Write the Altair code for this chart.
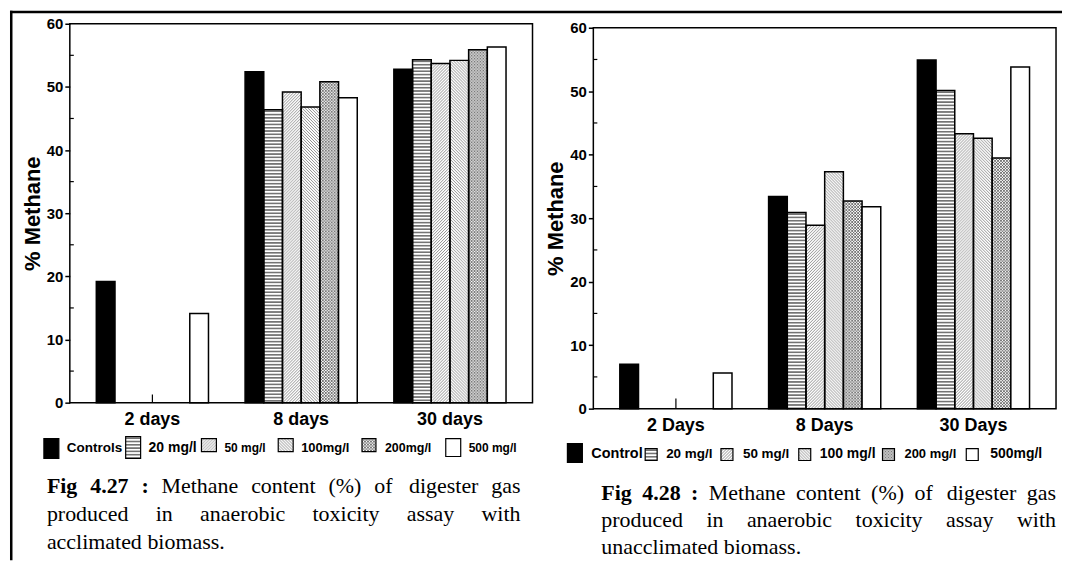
import altair as alt
import pandas as pd
from urllib.parse import quote

# ---------------- data ----------------
series = ["Control", "20 mg/l", "50 mg/l", "100 mg/l", "200 mg/l", "500 mg/l"]

days_27 = ["2 days", "8 days", "30 days"]
fig27_2days = [19.2, 0, 0, 0, 0, 14.1]
fig27_8days = [52.4, 46.4, 49.2, 46.8, 50.8, 48.3]
fig27_30days = [52.8, 54.3, 53.7, 54.2, 55.9, 56.3]
fig27_stub = [1.3]

days_28 = ["2 Days", "8 Days", "30 Days"]
fig28_2days = [7.0, 0, 0, 0, 0, 5.6]
fig28_8days = [33.4, 30.9, 28.9, 37.3, 32.7, 31.8]
fig28_30days = [54.9, 50.1, 43.3, 42.6, 39.5, 53.8]
fig28_stub = [1.6]

legend_27 = ["Controls", "20 mg/l", "50 mg/l", "100mg/l", "200mg/l", "500 mg/l"]
legend_28 = ["Control", "20 mg/l", "50 mg/l", "100 mg/l", "200 mg/l", "500mg/l"]

y_major = [0, 10, 20, 30, 40, 50, 60]
y_minor = [5, 15, 25, 35, 45, 55]

caption_27 = ["Fig 4.27 :", "Methane content (%) of digester gas",
              "produced in anaerobic toxicity assay with", "acclimated biomass."]
caption_28 = ["Fig 4.28 :", "Methane content (%) of digester gas",
              "produced in anaerobic toxicity assay with", "unacclimated biomass."]

# ---------------- styles / layout ----------------
SANS = "Liberation Sans"
SERIF = "Liberation Serif"
PW = 464

PATTERNS = {
    "h": "<pattern id='p' width='6' height='3.3' patternUnits='userSpaceOnUse'>"
         "<rect x='0' y='1.2' width='6' height='0.9' fill='#000'/></pattern>",
    "f": "<pattern id='p' width='3' height='3' patternUnits='userSpaceOnUse'>"
         "<path d='M-1,1 L1,-1 M0,3 L3,0 M2,4 L4,2' stroke='#333' stroke-width='0.55'/></pattern>",
    "b": "<pattern id='p' width='3' height='3' patternUnits='userSpaceOnUse'>"
         "<path d='M-1,2 L1,4 M0,0 L3,3 M2,-1 L4,1' stroke='#333' stroke-width='0.55'/></pattern>",
    "x": "<pattern id='p' width='3' height='3' patternUnits='userSpaceOnUse'>"
         "<path d='M-1,1 L1,-1 M0,3 L3,0 M2,4 L4,2 M-1,2 L1,4 M0,0 L3,3 M2,-1 L4,1' "
         "stroke='#222' stroke-width='0.6'/></pattern>",
}


def pattern_url(key, w, h):
    svg = (f"<svg xmlns='http://www.w3.org/2000/svg' width='{w}' height='{h}' "
           f"viewBox='0 0 {w} {h}' preserveAspectRatio='none'><defs>{PATTERNS[key]}</defs>"
           f"<rect width='{w}' height='{h}' fill='#fff'/>"
           f"<rect width='{w}' height='{h}' fill='url(#p)'/></svg>")
    return "data:image/svg+xml;charset=utf-8," + quote(svg)


pattern_keys = ["h", "f", "b", "x"]
fills = ["black", "transparent", "transparent", "transparent", "transparent", "white"]

TR = {' ': 250, 'a': 444, 'b': 500, 'c': 444, 'd': 500, 'e': 444, 'g': 500, 'h': 500,
      'i': 278, 'l': 278, 'm': 778, 'n': 500, 'o': 500, 'p': 500, 'r': 333, 's': 389,
      't': 278, 'u': 500, 'w': 722, 'x': 500, 'y': 500, 'M': 889, '(': 333, ')': 333,
      '%': 833, '.': 250}
TB = {' ': 250, 'F': 611, 'i': 278, 'g': 500, '.': 250, ':': 333}


def text_width(t, bold, size):
    table = TB if bold else TR
    return sum(table.get(c, 500) for c in t) / 1000.0 * size


def caption_words(cap, x0, x1, ys, size=22):
    rows = []
    l1 = [(w, True) for w in cap[0].split()] + [(w, False) for w in cap[1].split()]
    l2 = [(w, False) for w in cap[2].split()]
    l3 = [(w, False) for w in cap[3].split()]
    for words, y, just in [(l1, ys[0], True), (l2, ys[1], True), (l3, ys[2], False)]:
        widths = [text_width(w, b, size) for w, b in words]
        gap = (x1 - x0 - sum(widths)) / (len(words) - 1) if just else TR[' '] / 1000 * size
        x = x0
        for (w, b), wd in zip(words, widths):
            rows.append((w, b, x, y))
            x += wd + gap
    return rows


def one(lab):
    return pd.DataFrame({"label": [lab]})


def panel(days, by_day, stub, legend_labels, caption, origin, plot_top, plot_bottom,
          legend_boxes, legend_tx, legend_ty, legend_sizes, cap_x, cap_y, borders):
    ox, oy = origin
    view_h = plot_bottom - oy
    rows = []
    for d, vals in zip(days, by_day):
        for s, v in zip(series, vals):
            rows.append({"day": d, "series": s, "value": v})
    df = pd.DataFrame(rows)
    xs = alt.Scale(domain=days, paddingInner=0.246, paddingOuter=0.178)
    ys = alt.Scale(domain=[0, 60], nice=False, range=[view_h, plot_top - oy])
    X = alt.X("day:N", scale=xs, sort=days, title=None,
              axis=alt.Axis(labelFont=SANS, labelFontWeight="bold", labelFontSize=18,
                            labelColor="black", ticks=False, domain=False, labelPadding=8,
                            labelAngle=0))
    XO = alt.XOffset("series:N", sort=series,
                     scale=alt.Scale(domain=series, paddingInner=0, paddingOuter=0))
    Y = alt.Y("value:Q", scale=ys,
              axis=alt.Axis(values=y_major, format="d", grid=False, domain=False,
                            labelFont=SANS, labelFontWeight="bold", labelFontSize=15,
                            labelColor="black", labelPadding=2, tickSize=5, tickWidth=1.5,
                            tickColor="black", title="% Methane", titleFont=SANS,
                            titleFontWeight="bold", titleFontSize=22, titleColor="black",
                            titlePadding=2))
    base = alt.Chart(df).transform_filter(alt.datum.value > 0)
    layers = []
    for s, key in zip(series[1:5], pattern_keys):
        layers.append(
            base.transform_filter(alt.datum.series == s)
            .transform_calculate(low="datum.value - 60")
            .mark_image(aspect=False, clip=True)
            .encode(x=X, xOffset=XO, y=Y, y2="low:Q",
                    url=alt.value(pattern_url(key, 19, plot_bottom - plot_top)))
        )
    layers.append(
        base.mark_bar(stroke="black", strokeWidth=1.5)
        .encode(x=X, xOffset=XO, y=Y,
                fill=alt.Fill("series:N", scale=alt.Scale(domain=series, range=fills),
                              legend=None))
    )
    layers.append(
        alt.Chart(pd.DataFrame({"day": [days[0]], "value": stub}))
        .transform_calculate(zero="0")
        .mark_rule(color="black", strokeWidth=1.2)
        .encode(x=X, y=Y, y2="zero:Q")
    )
    layers.append(
        alt.Chart(pd.DataFrame({"value": y_minor}))
        .mark_rule(color="black", strokeWidth=1.2)
        .encode(y=Y, x=alt.value(0), x2=alt.value(4))
    )
    # plot frame
    layers.append(alt.Chart(one("frame")).mark_rect(
        fill="transparent", stroke="black", strokeWidth=1.5).encode(
        x=alt.value(0), x2=alt.value(PW), y=alt.value(plot_top - oy),
        y2=alt.value(plot_bottom - oy)))

    # legend
    kinds = ["solid", "h", "f", "b", "x", "white"]
    for lab, (x0, x1, y0, y1), tx, sz, kind in zip(legend_labels, legend_boxes, legend_tx,
                                                   legend_sizes, kinds):
        pos = dict(x=alt.value(x0 - ox), x2=alt.value(x1 - ox),
                   y=alt.value(y0 - oy), y2=alt.value(y1 - oy))
        if kind in PATTERNS:
            layers.append(alt.Chart(one(lab)).mark_image(aspect=False).encode(
                url=alt.value(pattern_url(kind, x1 - x0, y1 - y0)), **pos))
        fill = {"solid": "black", "white": "white"}.get(kind, "transparent")
        layers.append(alt.Chart(one(lab)).mark_rect(fill=fill, stroke="black",
                                                    strokeWidth=1.2).encode(**pos))
        layers.append(alt.Chart(one(lab)).mark_text(
            align="left", baseline="middle", font=SANS, fontWeight="bold", fontSize=sz,
            color="black").encode(x=alt.value(tx - ox), y=alt.value(legend_ty - oy),
                                  text="label:N"))

    # caption (justified word by word)
    for w, b, px, py in caption_words(caption, cap_x[0], cap_x[1], cap_y):
        layers.append(alt.Chart(one(w)).mark_text(
            align="left", baseline="alphabetic", font=SERIF, fontSize=22,
            fontWeight="bold" if b else "normal", color="black").encode(
            x=alt.value(px - ox), y=alt.value(py - oy), text="label:N"))

    if borders:
        layers.append(alt.Chart(one("top")).mark_rule(color="black", strokeWidth=2.5).encode(
            x=alt.value(8 - ox), x2=alt.value(1063 - ox), y=alt.value(9.25 - oy)))
        layers.append(alt.Chart(one("left")).mark_rule(color="black", strokeWidth=2.5).encode(
            x=alt.value(9.25 - ox), y=alt.value(8 - oy), y2=alt.value(559 - oy)))

    return alt.layer(*layers).properties(
        width=PW, height=view_h, view=alt.ViewBackground(stroke="transparent"))


left = panel(
    days_27, [fig27_2days, fig27_8days, fig27_30days], fig27_stub, legend_27, caption_27,
    origin=(68, 21), plot_top=21, plot_bottom=401,
    legend_boxes=[(42, 57, 437, 457), (124, 139, 435, 457), (200, 215, 437, 450),
                  (277, 292, 437, 450), (361, 375, 437, 450), (445, 460, 437, 455)],
    legend_tx=[65, 147, 223, 300, 384, 468], legend_ty=446,
    legend_sizes=[13.5, 14, 12, 13, 12.5, 12],
    cap_x=(45, 520), cap_y=[492, 520, 548], borders=True)

right = panel(
    days_28, [fig28_2days, fig28_8days, fig28_30days], fig28_stub, legend_28, caption_28,
    origin=(593, 21), plot_top=25, plot_bottom=407,
    legend_boxes=[(567, 582, 442, 461), (645, 657, 447, 459), (721, 733, 447, 459),
                  (799, 811, 447, 459), (883, 895, 447, 459), (967, 979, 447, 459)],
    legend_tx=[591, 666, 743, 820, 905, 991], legend_ty=452,
    legend_sizes=[14.5, 13.5, 13.5, 14, 13, 14],
    cap_x=(601, 1057), cap_y=[499, 526, 553], borders=False)

chart = alt.hconcat(left, right, spacing=61, bounds="flush").properties(
    padding={"left": 0, "top": 0, "right": 0, "bottom": 0}
).configure_view(stroke="transparent").configure(background="white")

chart.save("out.html", embed_options={"renderer": "svg", "actions": False})
